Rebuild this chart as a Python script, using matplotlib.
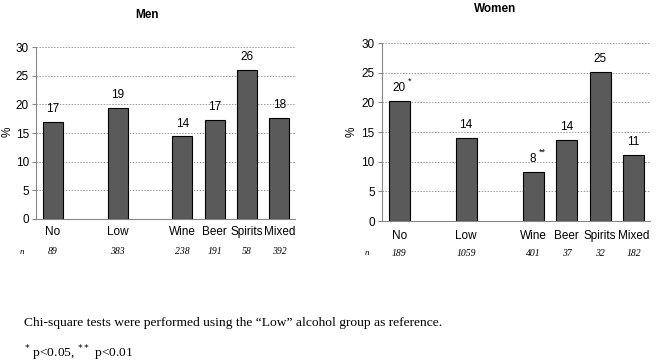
import matplotlib
matplotlib.use("Agg")
import matplotlib.pyplot as plt
import numpy as np

categories = ["No", "Low", "Wine", "Beer", "Spirits", "Mixed"]
positions = [0, 2, 4, 5, 6, 7]
men_values = [16.9, 19.4, 14.4, 17.3, 26.0, 17.7]
men_labels = ["17", "19", "14", "17", "26", "18"]
men_n = ["89", "383", "238", "191", "58", "392"]
women_values = [20.2, 14.0, 8.2, 13.6, 25.2, 11.1]
women_labels = ["20", "14", "8", "14", "25", "11"]
women_sig = ["*", "", "**", "", "", ""]
women_n = ["189", "1059", "401", "37", "32", "182"]
yticks = [0, 5, 10, 15, 20, 25, 30]

plt.rcParams['font.family'] = ['Liberation Sans', 'DejaVu Sans']

fig = plt.figure(figsize=(6.57, 3.63), dpi=100)
H = 363.0
W = 657.0

def panel(rect, title, values, labels, sig, ns, title_py, cat_py, n_py, pct_px):
    ax = fig.add_axes(rect)
    ax.bar(positions, values, width=0.62, color="#5a5a5a", edgecolor="black", linewidth=0.8, zorder=3)
    ax.set_xlim(-0.52, 7.48)
    ax.set_ylim(0, 30)
    ax.set_yticks(yticks)
    ax.set_yticklabels([str(t) for t in yticks], fontsize=8.5)
    ax.yaxis.grid(True, linestyle=(0, (1.5, 1.5)), color="#999999", linewidth=0.7, zorder=0)
    ax.set_xticks([])
    for s in ["top", "right"]:
        ax.spines[s].set_visible(False)
    for s in ["left", "bottom"]:
        ax.spines[s].set_color("#888888")
        ax.spines[s].set_linewidth(0.8)
    ax.tick_params(axis="y", length=3, color="#888888", pad=2)
    for p, v, lab, sg in zip(positions, values, labels, sig):
        ax.text(p, v + 1.2, lab, ha="center", va="bottom", fontsize=8.5)
        if sg:
            ax.annotate(sg, xy=(p, v + 1.2), xytext=(6 if len(lab) == 2 else 4, 6),
                        textcoords="offset points", ha="left", va="bottom", fontsize=6.5)
    trans = ax.get_xaxis_transform()
    bottom_px = H - (rect[1] * H)
    height_px = rect[3] * H
    def yfrac(py):
        return (bottom_px - py) / height_px
    for p, c, n in zip(positions, categories, ns):
        ax.text(p, yfrac(cat_py), c, ha="center", va="center", fontsize=8.5, transform=trans)
        ax.text(p, yfrac(n_py), n, ha="center", va="center", fontsize=7, style="italic",
                family="Liberation Serif", transform=trans)
    ax.text(-0.52 - 0.45, yfrac(n_py), "n", ha="center", va="center", fontsize=6.5, style="italic",
            family="Liberation Serif", transform=trans)
    ax.text(0.5 * (rect[0] + rect[0] + rect[2]) if False else 0, 0, "", transform=ax.transAxes)
    fig.text(pct_px / W, (H - 132) / H, "%", rotation=90, ha="center", va="center", fontsize=8.5)
    return ax

panel([0.0548, 0.397, 0.394, 0.473], "Men", men_values, men_labels, [""] * 6, men_n,
      15, 232, 252, 8)
panel([0.581, 0.391, 0.408, 0.490], "Women", women_values, women_labels, women_sig, women_n,
      9, 236, 253, 352)

fig.text(147 / W, (H - 15) / H, "Men", ha="center", va="center", fontsize=8.5, fontweight="bold")
fig.text(495 / W, (H - 9) / H, "Women", ha="center", va="center", fontsize=8.5, fontweight="bold")

fig.text(24 / W, (H - 323) / H, "Chi-square tests were performed using the \u201cLow\u201d alcohol group as reference.",
         fontsize=9.7, family="Liberation Serif", va="center", ha="left")
fig.text(24 / W, (H - 353) / H, r"$^{*}$ p<0.05, $^{**}$ p<0.01",
         fontsize=9.7, family="Liberation Serif", va="center", ha="left")

fig.savefig("out.png", dpi=100)
